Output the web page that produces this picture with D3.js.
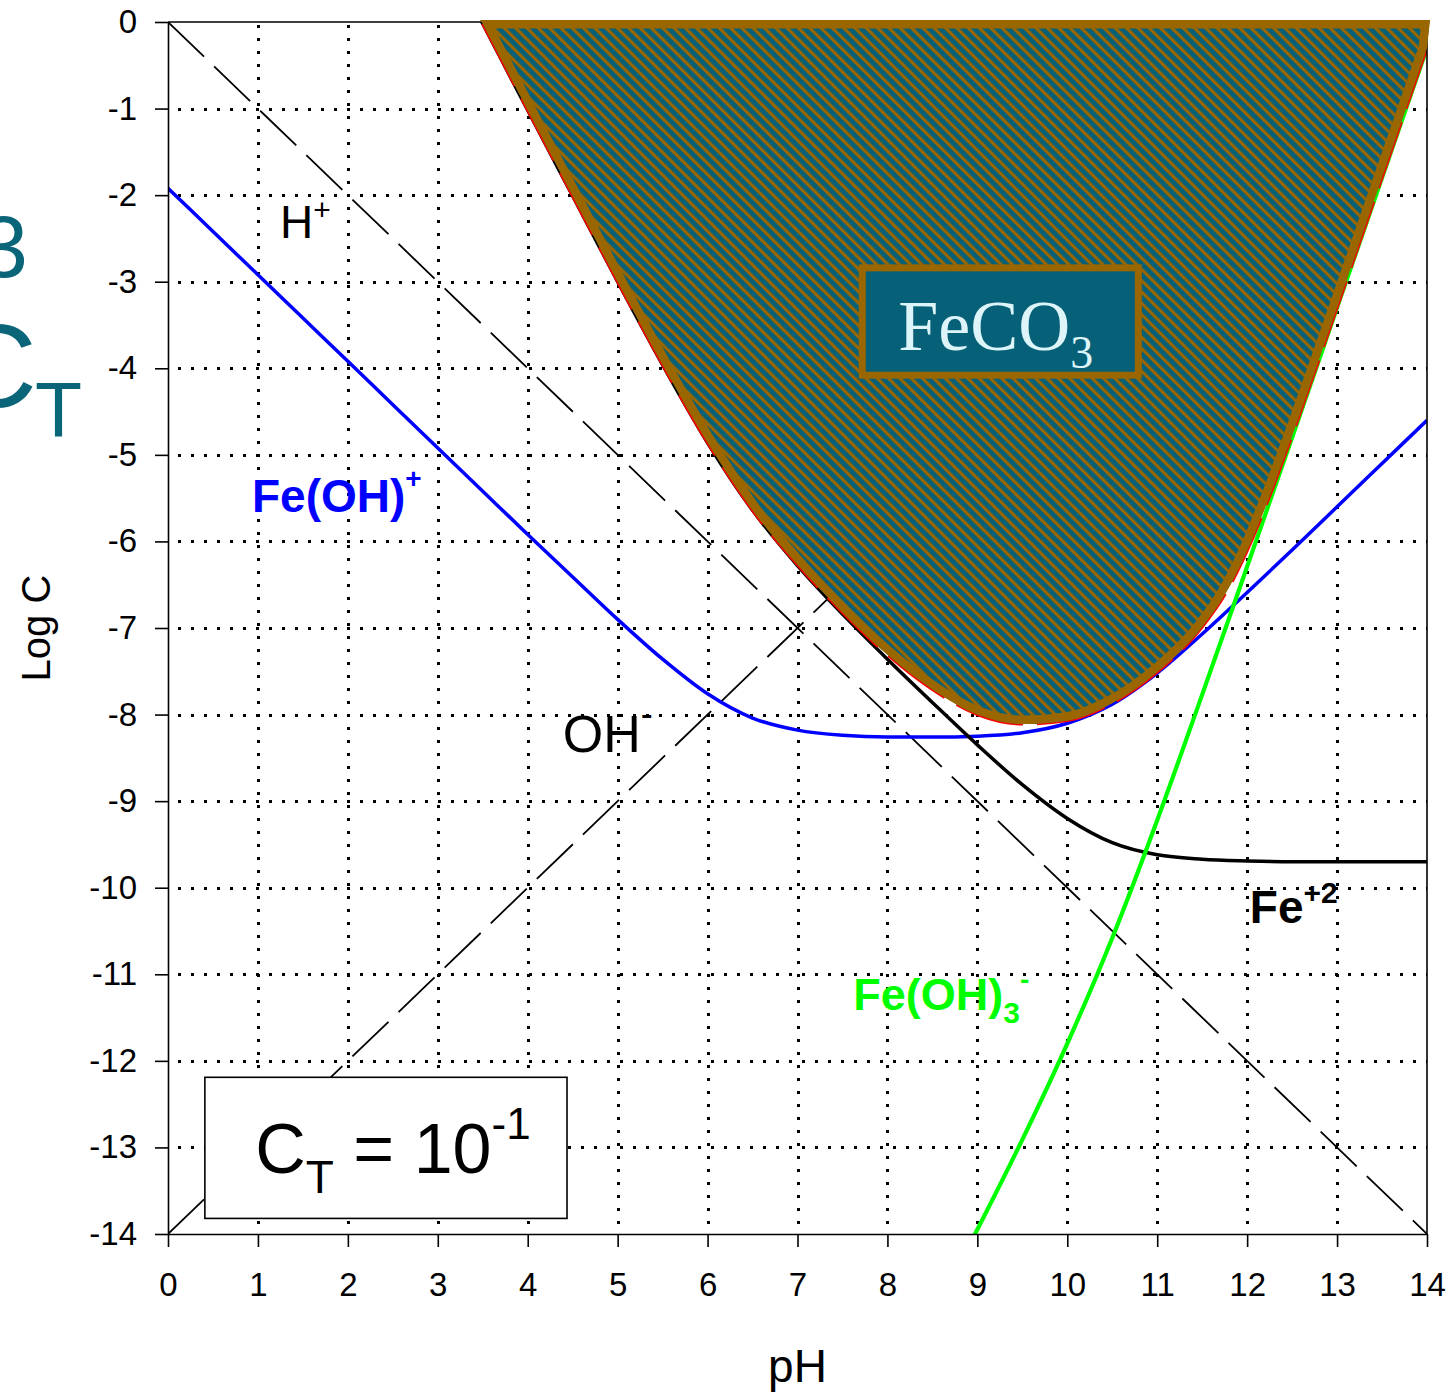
<!DOCTYPE html>
<html>
<head>
<meta charset="utf-8">
<script src="https://cdn.jsdelivr.net/npm/d3@7"></script>
<style>
  body { margin: 0; background: #fff; }
  text { font-family: "Liberation Sans", Arial, sans-serif; }
</style>
</head>
<body>
<div id="graph"></div>
<script>
// ---- data (pH vs log C) ----
const xTicks = [0, 1, 2, 3, 4, 5, 6, 7, 8, 9, 10, 11, 12, 13, 14];
const yTicks = [0, -1, -2, -3, -4, -5, -6, -7, -8, -9, -10, -11, -12, -13, -14];

// H+ and OH- guide lines
const phWater = [0, 14];
const logH = [0, -14];
const logOH = [-14, 0];

// Fe+2
const phFe = [3, 3.5, 4, 4.5, 5, 5.5, 6, 6.5, 7, 7.5, 8, 8.5, 9, 9.5, 10, 10.5, 11, 11.5, 12, 12.5, 13, 13.5, 14];
const logFe = [0.98, -0.02, -1.02, -2.01, -3.00, -3.96, -4.86, -5.64, -6.28, -6.84, -7.36, -7.86, -8.35, -8.81, -9.20, -9.48, -9.62, -9.67, -9.69, -9.70, -9.70, -9.70, -9.70];

// Fe(OH)+
const phFeOH = [0, 0.5, 1, 1.5, 2, 2.5, 3, 3.5, 4, 4.5, 5, 5.5, 6, 6.5, 7, 7.5, 8, 8.5, 9, 9.5, 10, 10.5, 11, 11.5, 12, 12.5, 13, 13.5, 14];
const logFeOH = [-1.92, -2.42, -2.92, -3.42, -3.92, -4.42, -4.92, -5.42, -5.92, -6.41, -6.90, -7.36, -7.76, -8.04, -8.18, -8.24, -8.26, -8.26, -8.25, -8.21, -8.10, -7.88, -7.52, -7.07, -6.59, -6.10, -5.60, -5.10, -4.60];

// Fe(OH)3-
const phFeOH3 = [8.95, 9.5, 10, 10.5, 11, 11.5, 12, 12.5, 13, 13.5, 14];
const logFeOH3 = [-14.05, -12.91, -11.80, -10.58, -9.22, -7.77, -6.29, -4.80, -3.30, -1.80, -0.30];

// total dissolved Fe (red) = FeCO3 solubility boundary
const phTotal = [3.5, 4, 4.5, 5, 5.5, 6, 6.5, 7, 7.5, 8, 8.5, 9, 9.5, 10, 10.5, 11, 11.5, 11.75, 12, 12.25, 12.5, 13, 13.5, 14];
const logTotal = [-0.02, -1.02, -2.01, -3.00, -3.96, -4.86, -5.64, -6.27, -6.82, -7.31, -7.71, -8.00, -8.11, -8.07, -7.87, -7.51, -6.99, -6.62, -6.11, -5.48, -4.78, -3.30, -1.80, -0.30];

// ---- layout ----
const margin = {top: 22, right: 27, bottom: 161, left: 168};
const fullW = 1454, fullH = 1395;
const width = fullW - margin.left - margin.right;   // 1259
const height = fullH - margin.top - margin.bottom;  // 1212

const teal = "#056078", brown = "#996600";

const svg = d3.select("#graph").append("svg")
    .attr("width", fullW)
    .attr("height", fullH);

const defs = svg.append("defs");
defs.append("clipPath").attr("id", "plotClip")
    .append("rect").attr("width", width).attr("height", height);

// diagonal hatch for the FeCO3 field
const pat = defs.append("pattern")
    .attr("id", "hatch")
    .attr("patternUnits", "userSpaceOnUse")
    .attr("width", 8).attr("height", 8)
    .attr("patternTransform", "rotate(-45)");
pat.append("rect").attr("width", 8).attr("height", 8).attr("fill", teal);
pat.append("rect").attr("width", 3.2).attr("height", 8).attr("fill", brown);

const g = svg.append("g")
    .attr("transform", "translate(" + margin.left + "," + margin.top + ")");

const x = d3.scaleLinear().domain([0, 14]).range([0, width]);
const y = d3.scaleLinear().domain([-14, 0]).range([height, 0]);

const pairs = (xs, ys) => xs.map((v, i) => [v, ys[i]]);
const line = d3.line()
    .x(d => x(d[0]))
    .y(d => y(d[1]))
    .curve(d3.curveMonotoneX);

// dotted grid
const grid = g.append("g").attr("class", "grid");
grid.selectAll(".vgrid")
    .data(xTicks.filter(t => t > 0 && t < 14))
    .enter().append("line")
    .attr("x1", d => Math.round(x(d))).attr("x2", d => Math.round(x(d)))
    .attr("y1", height).attr("y2", 0);
grid.selectAll(".hgrid")
    .data(yTicks.filter(t => t < 0 && t > -14))
    .enter().append("line")
    .attr("x1", 0).attr("x2", width)
    .attr("y1", d => Math.round(y(d))).attr("y2", d => Math.round(y(d)));
grid.selectAll("line")
    .attr("stroke", "#000")
    .attr("stroke-width", 3)
    .attr("stroke-dasharray", "3,10")
    .attr("stroke-dashoffset", -10)
    .attr("shape-rendering", "crispEdges");

// species lines
const lines = g.append("g").attr("clip-path", "url(#plotClip)");

lines.append("path").datum(pairs(phWater, logH))
    .attr("d", line).attr("fill", "none")
    .attr("stroke", "#000").attr("stroke-width", 1.8)
    .attr("stroke-dasharray", "50,14");
lines.append("path").datum(pairs(phWater, logOH))
    .attr("d", line).attr("fill", "none")
    .attr("stroke", "#000").attr("stroke-width", 1.8)
    .attr("stroke-dasharray", "50,14");

lines.append("path").datum(pairs(phFeOH, logFeOH))
    .attr("d", line).attr("fill", "none")
    .attr("stroke", "#0000ff").attr("stroke-width", 3.5);

lines.append("path").datum(pairs(phFe, logFe))
    .attr("d", line).attr("fill", "none")
    .attr("stroke", "#000").attr("stroke-width", 3.5);

lines.append("path").datum(pairs(phFeOH3, logFeOH3))
    .attr("d", line).attr("fill", "none")
    .attr("stroke", "#00ff00").attr("stroke-width", 4.2);

lines.append("path").datum(pairs(phTotal, logTotal))
    .attr("d", line).attr("fill", "none")
    .attr("stroke", "#ff0000").attr("stroke-width", 3)
    .attr("stroke-dasharray", "70,14");

// axes (plain hyphen for negative labels, as in the original)
const fmt = d => String(d);
const xAxis = g.append("g")
    .attr("transform", "translate(0," + height + ")")
    .call(d3.axisBottom(x).tickValues(xTicks).tickFormat(fmt).tickSize(13).tickSizeOuter(0).tickPadding(26));
const yAxis = g.append("g")
    .call(d3.axisLeft(y).tickValues(yTicks).tickFormat(fmt).tickSize(13).tickSizeOuter(0).tickPadding(18));
[xAxis, yAxis].forEach(a => {
  a.select(".domain").attr("stroke", "#000").attr("stroke-width", 1.6);
  a.selectAll(".tick line").attr("stroke", "#000").attr("stroke-width", 1.6);
  a.selectAll(".tick text")
      .attr("fill", "#000")
      .style("font-size", "33px")
      .style("font-family", "'Liberation Sans', Arial, sans-serif");
});
// top and right frame
g.append("line").attr("x1", 0).attr("x2", width).attr("y1", 0).attr("y2", 0)
    .attr("stroke", "#000").attr("stroke-width", 1.6);
g.append("line").attr("x1", width).attr("x2", width).attr("y1", 0).attr("y2", height)
    .attr("stroke", "#000").attr("stroke-width", 1.6);

// FeCO3 field: area above the total-Fe line, border drawn inside only
const topY = y(0) - 2;
const bnd = line(pairs(phTotal, logTotal));
const regionD = "M" + x(3.47) + "," + topY + "L" + bnd.slice(1) +
    "L" + (x(14) + 3) + "," + topY + "Z";
defs.append("clipPath").attr("id", "regionClip")
    .append("path").attr("d", regionD);
g.append("path")
    .attr("d", regionD)
    .attr("clip-path", "url(#regionClip)")
    .attr("fill", "url(#hatch)")
    .attr("stroke", brown)
    .attr("stroke-width", 17)
    .attr("stroke-linejoin", "round");

// FeCO3 label box
g.append("rect")
    .attr("x", x(7.72)).attr("y", y(-2.84))
    .attr("width", x(10.79) - x(7.72)).attr("height", y(-4.08) - y(-2.84))
    .attr("fill", teal).attr("stroke", brown).attr("stroke-width", 7);
const fe = g.append("text")
    .attr("x", x(8.12)).attr("y", y(-3.79))
    .attr("fill", "#ddf5f9")
    .style("font-family", "'Liberation Serif', 'Times New Roman', serif")
    .style("font-size", "72px");
fe.append("tspan").text("FeCO");
fe.append("tspan").attr("dy", 18).style("font-size", "46px").text("3");

// species labels
function label(px, py, color, weight, size, parts) {
  const t = g.append("text")
      .attr("x", x(px)).attr("y", y(py))
      .attr("fill", color)
      .style("font-weight", weight)
      .style("font-size", size + "px");
  parts.forEach(p => {
    const s = t.append("tspan").text(p.t);
    if (p.dy) s.attr("dy", p.dy);
    if (p.size) s.style("font-size", p.size + "px");
  });
  return t;
}
label(1.245, -2.495, "#000", "normal", 46, [{t: "H"}, {t: "+", dy: -18, size: 30}]);
label(0.934, -5.66, "#0000ff", "bold", 46, [{t: "Fe(OH)"}, {t: "+", dy: -24, size: 28}]);
label(4.39, -8.43, "#000", "normal", 52, [{t: "OH"}, {t: "-", dy: -26, size: 36}]);
label(12.03, -10.41, "#000", "bold", 46, [{t: "Fe"}, {t: "+2", dy: -20, size: 30}]);
label(7.62, -11.41, "#00ff00", "bold", 45, [{t: "Fe(OH)"}, {t: "3", dy: 13, size: 30}, {t: "-", dy: -34, size: 28}]);

// C_T box
g.append("rect")
    .attr("x", x(0.41)).attr("y", y(-12.19))
    .attr("width", x(4.437) - x(0.41)).attr("height", y(-13.82) - y(-12.19))
    .attr("fill", "#fff").attr("stroke", "#000").attr("stroke-width", 1.6);
label(0.97, -13.30, "#000", "normal", 70,
    [{t: "C"}, {t: "T", dy: 20, size: 46}, {t: " = 10", dy: -20, size: 70}, {t: "-1", dy: -34, size: 44}]);

// axis titles
svg.append("text")
    .attr("x", margin.left + x(7)).attr("y", 1382)
    .attr("text-anchor", "middle")
    .style("font-size", "46px")
    .text("pH");
svg.append("text")
    .attr("transform", "translate(50," + (margin.top + y(-7)) + ") rotate(-90)")
    .attr("text-anchor", "middle")
    .style("font-size", "40px")
    .text("Log C");

// cut-off text at the left edge (as in the original)
svg.append("text")
    .attr("x", 28).attr("y", 277)
    .attr("text-anchor", "end")
    .attr("fill", "#0b6579")
    .style("font-size", "88px")
    .text("3");
svg.append("text")
    .attr("x", 37).attr("y", 407)
    .attr("text-anchor", "end")
    .attr("fill", "#0b6579")
    .style("font-size", "118px")
    .text("C");
svg.append("text")
    .attr("x", 35).attr("y", 437)
    .attr("fill", "#0b6579")
    .style("font-size", "77px")
    .text("T");
</script>
</body>
</html>
